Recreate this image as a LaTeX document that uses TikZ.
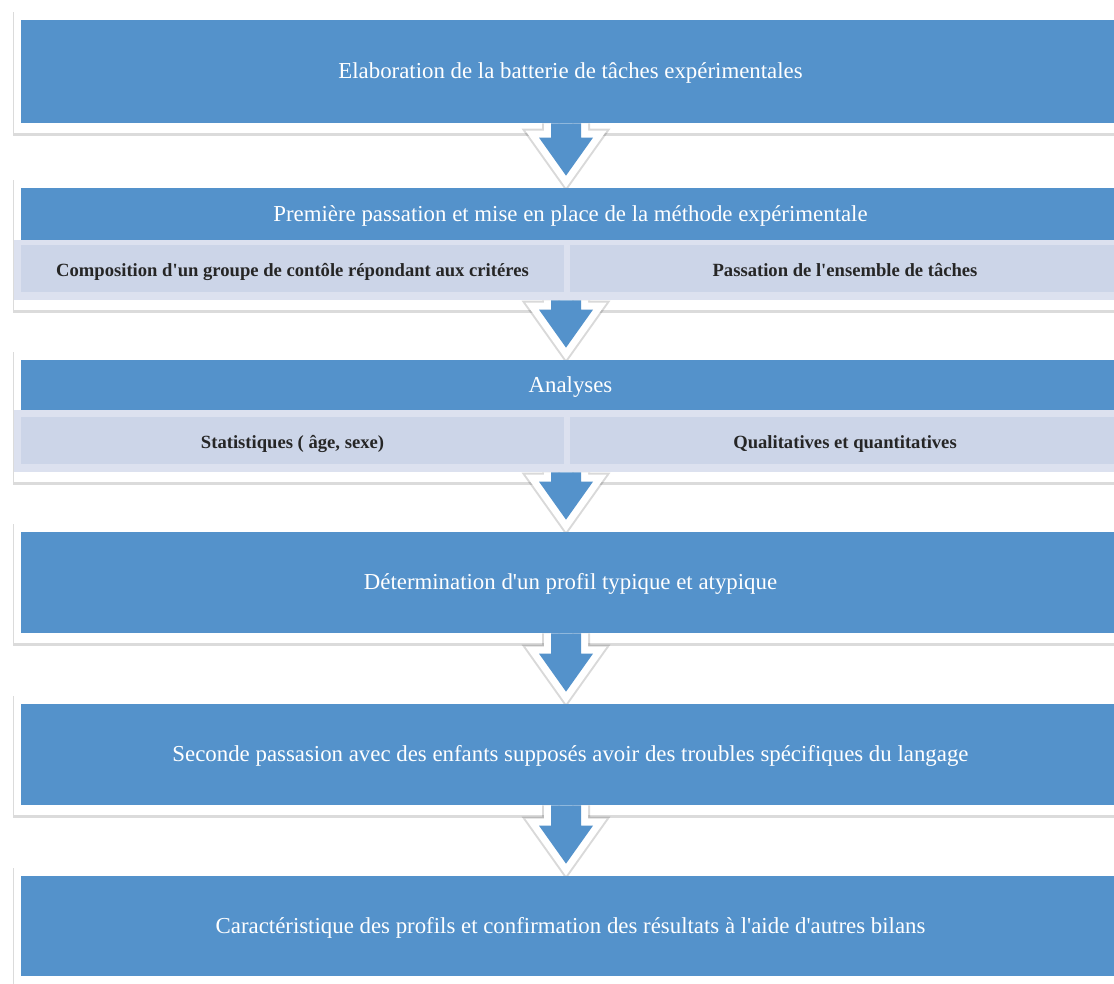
\documentclass[tikz,border=0pt]{standalone}
\usepackage{fontspec}
\setmainfont{Liberation Serif}
\usetikzlibrary{calc, shadows}
\pgfdeclarelayer{back}
\pgfdeclarelayer{rims}
\pgfsetlayers{back,rims,main}
\definecolor{stepblue}{RGB}{84,146,203}
\definecolor{celllight}{RGB}{204,213,232}
\definecolor{bandlight}{RGB}{220,225,239}
\newcommand{\flowarrow}[3]{%
  \path[#1] ($(#2.south -| ax)+(-15,0)$) -- ($(#3.north -| ax)+(-15,-50)$)
    -- ($(#3.north -| ax)+(-27,-50)$) -- ($(#3.north -| ax)+(0,-12)$)
    -- ($(#3.north -| ax)+(27,-50)$) -- ($(#3.north -| ax)+(15,-50)$)
    -- ($(#2.south -| ax)+(15,0)$);}
\newcommand{\sq}{\textquotesingle}

\begin{document}
\begin{tikzpicture}[x=0.02cm, y=-0.02cm,
  stepbox/.style={fill=stepblue, text=white, minimum width=21.98cm, inner sep=0pt,
    text height=2.2ex, text depth=0.4ex, font=\fontsize{13}{15}\selectfont},
  bandbox/.style={fill=bandlight, minimum width=22.26cm, inner sep=0pt},
  cellbox/.style={fill=celllight, text=black!85, minimum height=0.94cm, inner sep=0pt,
    text height=2.5ex, text depth=0.4ex, font=\bfseries\fontsize{10.6}{13}\selectfont},
  stepframe/.style={fill=white, drop shadow={shadow xshift=-0.3pt, shadow yshift=-1.6pt, opacity=0.28}},
  rim/.style={draw=white, line width=0.28cm, line join=miter},
  rimshadow/.style={draw=black, opacity=0.15, line width=0.36cm, line join=miter, yshift=-1.2pt}]
  \useasboundingbox (0,0) rectangle (1114,983);
  \coordinate (ax) at (566,0);

  \node[stepbox, minimum height=2.06cm] (b1) at (570.5,71.5) {Elaboration de la batterie de tâches expérimentales};

  \node[stepbox, minimum height=1.04cm] (b2) at (570.5,214) {Première passation et mise en place de la méthode expérimentale};
  \node[bandbox, minimum height=1.2cm] (r2) at (570.5,270) {};
  \node[cellbox, minimum width=10.86cm] (c2a) at (292.5,268.5) {Composition d\sq un groupe de contôle répondant aux critéres};
  \node[cellbox, minimum width=11cm] (c2b) at (845,268.5) {Passation de l\sq ensemble de tâches};

  \node[stepbox, minimum height=1cm] (b3) at (570.5,385) {Analyses};
  \node[bandbox, minimum height=1.24cm] (r3) at (570.5,441) {};
  \node[cellbox, minimum width=10.86cm] (c3a) at (292.5,440.5) {Statistiques ( âge, sexe)};
  \node[cellbox, minimum width=11cm] (c3b) at (845,440.5) {Qualitatives et quantitatives};

  \node[stepbox, minimum height=2.02cm] (b4) at (570.5,582.5) {Détermination d\sq un profil typique et atypique};
  \node[stepbox, minimum height=2.02cm] (b5) at (570.5,754.5) {Seconde passasion avec des enfants supposés avoir des troubles spécifiques du langage};
  \node[stepbox, minimum height=2cm] (b6) at (570.5,926) {Caractéristique des profils et confirmation des résultats à l\sq aide d\sq autres bilans};

  \begin{pgfonlayer}{back}
    \fill[white] (0,0) rectangle (1114,983);
    \foreach \hi/\lo in {b1/b1, b2/r2, b3/r3, b4/b4, b5/b5, b6/b6} {
      \path[stepframe] ($(\hi.north west)+(-7,-10)$) rectangle ($(\lo.south east)+(7,10)$);
    }
  \end{pgfonlayer}

  \begin{pgfonlayer}{rims}
    \foreach \a/\b in {b1/b2, r2/b3, r3/b4, b4/b5, b5/b6} {
      \flowarrow{rimshadow}{\a}{\b}
      \flowarrow{rim}{\a}{\b}
    }
  \end{pgfonlayer}

  \foreach \a/\b in {b1/b2, r2/b3, r3/b4, b4/b5, b5/b6} {
    \flowarrow{fill=stepblue}{\a}{\b}
  }
\end{tikzpicture}
\end{document}
